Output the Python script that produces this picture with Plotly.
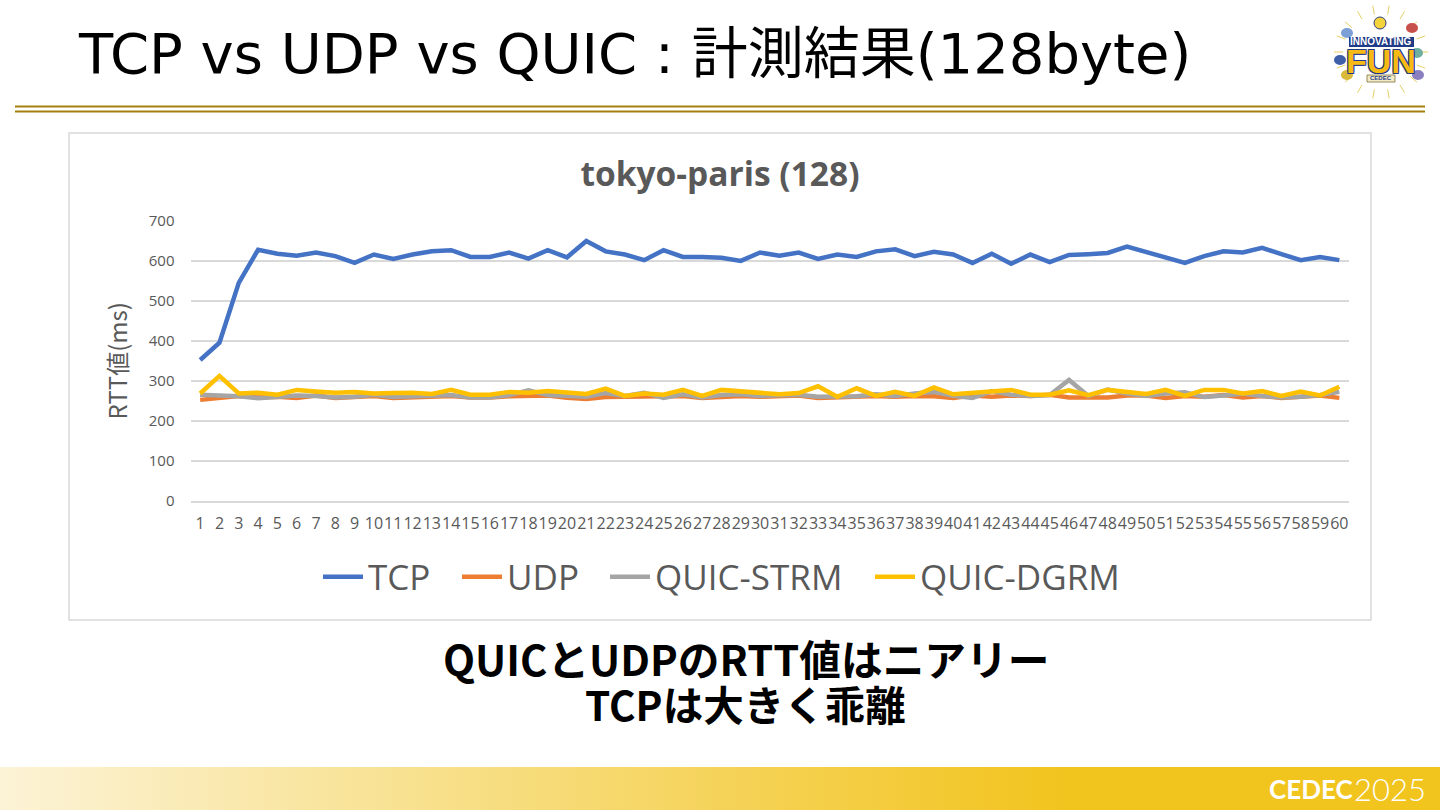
import math
import plotly.graph_objects as go

W, H = 1440, 810
categories = [str(i) for i in range(1, 61)]
y_ticks = [0, 100, 200, 300, 400, 500, 600, 700]

tcp = [352, 395, 545, 628, 618, 613, 621, 612, 595, 616, 605, 616, 624, 627, 610, 610, 621, 606, 627, 609,
       650, 624, 616, 602, 627, 610, 610, 608, 600, 621, 613, 621, 605, 616, 610, 624, 629, 612, 623, 616,
       595, 618, 593, 616, 597, 615, 617, 620, 636, 622, 609, 595, 612, 624, 621, 633, 617, 602, 610, 602]
udp = [252, 258, 262, 258, 260, 257, 263, 257, 259, 262, 257, 258, 260, 262, 258, 258, 261, 262, 263, 257,
       254, 259, 260, 261, 260, 262, 257, 260, 262, 260, 262, 263, 257, 259, 261, 262, 260, 262, 261, 257,
       263, 260, 263, 262, 265, 258, 258, 258, 263, 263, 257, 262, 260, 264, 258, 262, 257, 259, 263, 257]
quic_strm = [265, 264, 261, 256, 260, 263, 262, 258, 260, 265, 259, 260, 263, 264, 258, 258, 264, 276, 264, 262,
             260, 269, 262, 270, 257, 266, 258, 264, 266, 262, 264, 265, 260, 260, 261, 266, 262, 268, 272, 262,
             257, 274, 265, 262, 264, 302, 262, 278, 268, 262, 268, 271, 259, 263, 268, 262, 258, 260, 264, 272]
quic_dgrm = [268, 312, 268, 270, 265, 277, 273, 270, 272, 268, 269, 270, 267, 277, 265, 265, 272, 270, 274, 271,
             267, 280, 262, 268, 265, 277, 262, 277, 274, 270, 266, 269, 286, 260, 281, 262, 272, 262, 283, 266,
             269, 272, 277, 265, 265, 276, 264, 277, 272, 267, 277, 262, 277, 277, 268, 274, 262, 273, 263, 285]

series = [("TCP", tcp, "#4472C4", 318), ("UDP", udp, "#ED7D31", 457),
          ("QUIC-STRM", quic_strm, "#A5A5A5", 605), ("QUIC-DGRM", quic_dgrm, "#FFC000", 870)]

JP = "'Noto Sans CJK JP', 'Noto Sans', sans-serif"
MIX = "'DejaVu Sans', 'Noto Sans CJK JP', sans-serif"
SANS = "'Open Sans', 'Noto Sans', sans-serif"
GREY = "#595959"


def px(x):
    return x / W


def py(y):
    return 1 - y / H


fig = go.Figure()
legends = {}
for i, (name, vals, col, lx) in enumerate(series):
    key = "legend" if i == 0 else "legend%d" % (i + 1)
    fig.add_trace(go.Scatter(x=categories, y=vals, name=name, mode="lines", legend=key,
                             line=dict(color=col, width=4.5)))
    legends[key] = dict(orientation="h", x=px(lx), xanchor="left", y=py(577), yanchor="middle",
                        font=dict(family=SANS, size=35, color=GREY), itemwidth=40,
                        bgcolor="rgba(0,0,0,0)")

shapes = []


def rect(x0, y0, x1, y1, fill=None, line=None, lw=0, layer="below"):
    shapes.append(dict(type="rect", xref="paper", yref="paper", x0=px(x0), x1=px(x1), y0=py(y0), y1=py(y1),
                       fillcolor=fill, line=dict(color=line, width=lw), layer=layer))


# chart frame and rules
rect(69, 133, 1371, 620, fill="#FFFFFF", line="#D9D9D9", lw=1.5)
rect(15, 105.5, 1425, 107.5, fill="#A5800F")
rect(15, 110.5, 1425, 112.5, fill="#A5800F")

# footer gradient
c0, c1 = (252, 243, 214), (242, 196, 30)
step = 8
for x in range(0, W, step):
    t = min(1, x / 1060)
    c = tuple(round(a + (b - a) * t) for a, b in zip(c0, c1))
    rect(x, 767, x + step + 0.5, 810, fill="rgb(%d,%d,%d)" % c)

# logo rays, bulb and small ornaments
cx, cy = 1381, 52
for a in range(0, 360, 20):
    r0, r1 = 38, 47
    shapes.append(dict(type="line", xref="paper", yref="paper",
                       x0=px(cx + r0 * math.cos(math.radians(a))), y0=py(cy + r0 * math.sin(math.radians(a))),
                       x1=px(cx + r1 * math.cos(math.radians(a))), y1=py(cy + r1 * math.sin(math.radians(a))),
                       line=dict(color="#E8D060", width=1), layer="below"))
shapes.append(dict(type="circle", xref="paper", yref="paper", x0=px(1374), x1=px(1386), y0=py(17), y1=py(29),
                   fillcolor="#F5D33A", line=dict(color="#2B3F7E", width=1), layer="below"))
for (ox, oy, oc) in [(1347, 33, "#7C9FD6"), (1412, 28, "#C8504A"), (1417, 53, "#6FAF9F"),
                     (1418, 75, "#8A7FC0"), (1347, 75, "#D8B93A"), (1340, 60, "#3F5FA8")]:
    shapes.append(dict(type="circle", xref="paper", yref="paper", x0=px(ox - 6), x1=px(ox + 6),
                       y0=py(oy - 5), y1=py(oy + 5), fillcolor=oc, line=dict(width=0), layer="below"))
rect(1349, 37, 1414, 47, fill="#1F3A86")
rect(1367, 75, 1395, 82, fill="#F3EBC8", line="#6E5B20", lw=0.7)

annotations = [
    dict(text="TCP vs UDP vs QUIC : 計測結果(128byte)", x=px(76), y=py(54), xanchor="left", yanchor="middle",
         font=dict(family=MIX, size=56, color="#000000")),
    dict(text="<b>QUICとUDPのRTT値はニアリー</b>", x=px(746), y=py(658), xanchor="center", yanchor="middle",
         font=dict(family=JP, size=41.7, color="#000000")),
    dict(text="<b>TCPは大きく乖離</b>", x=px(745), y=py(703), xanchor="center", yanchor="middle",
         font=dict(family=JP, size=40.5, color="#000000")),
    dict(text="<b>CEDEC</b>", x=px(1311), y=py(789), xanchor="center", yanchor="middle",
         font=dict(family="Lato", size=26, color="#FFFFFF")),
    dict(text="2025", x=px(1390), y=py(789), xanchor="center", yanchor="middle",
         font=dict(family="Lato", size=31, color="#FFFFFF", weight=300)),
    dict(text="<b>INNOVATING</b>", x=px(1381), y=py(42), xanchor="center", yanchor="middle",
         font=dict(family="'Liberation Sans'", size=10, color="#FFFFFF")),
    dict(text="<b>FUN</b>", x=px(1381), y=py(61), xanchor="center", yanchor="middle",
         font=dict(family="'Liberation Sans'", size=34, color="#F7B913",
                   shadow="1px 1px 0 #1F3A86, -1px -1px 0 #1F3A86, 1px -1px 0 #1F3A86, -1px 1px 0 #1F3A86")),
    dict(text="<b>CEDEC</b>", x=px(1381), y=py(78.5), xanchor="center", yanchor="middle",
         font=dict(family="'Liberation Sans'", size=6, color="#1F3A86")),
]
for a in annotations:
    a.update(xref="paper", yref="paper", showarrow=False)

fig.update_layout(
    width=W, height=H, margin=dict(l=0, r=0, t=0, b=0, autoexpand=False),
    paper_bgcolor="#FFFFFF", plot_bgcolor="rgba(0,0,0,0)",
    font=dict(family=SANS, color=GREY),
    title=dict(text="<b>tokyo-paris (128)</b>", x=px(720), xanchor="center", y=py(174), yanchor="middle",
               xref="paper", yref="paper", font=dict(family=SANS, size=33.5, color=GREY)),
    xaxis=dict(domain=[px(190.5), px(1349)], type="category", categoryorder="array", categoryarray=categories,
               tickmode="array", tickvals=categories, ticktext=categories, range=[-0.5, 59.5],
               tickangle=0, tickfont=dict(size=16, color=GREY, family=SANS), ticks="",
               ticklabelstandoff=7, showgrid=False, showline=True, linecolor="#D9D9D9", linewidth=2),
    yaxis=dict(domain=[py(500.5), py(221)], range=[0, 700], tickmode="array", tickvals=y_ticks,
               tickfont=dict(size=15, color=GREY, family=SANS), ticks="", ticklabelstandoff=15,
               showgrid=True, gridcolor="#D9D9D9", gridwidth=1.5, zeroline=False,
               title=dict(text="RTT値(ms)", font=dict(family=JP, size=24, color=GREY), standoff=14)),
    shapes=shapes, annotations=annotations, showlegend=True,
    **legends,
)

fig.write_html("out.html", config={"displayModeBar": False},
               post_script="document.body.style.margin='0';")
